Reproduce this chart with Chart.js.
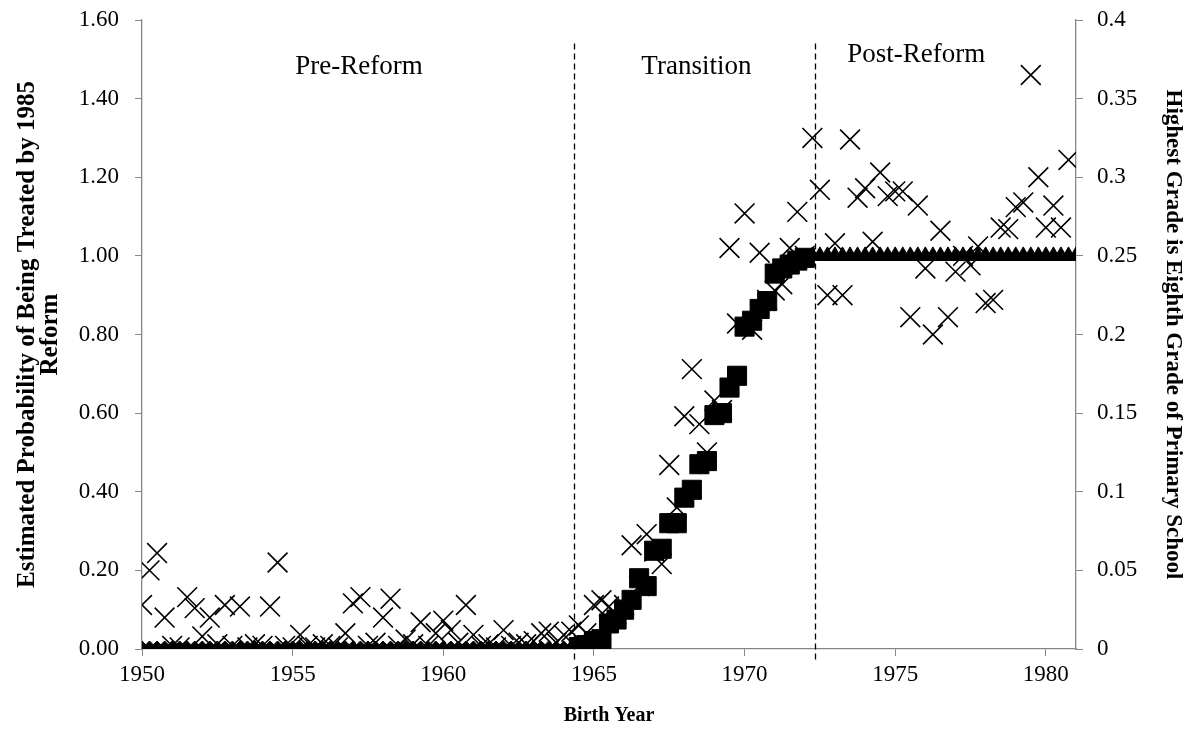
<!DOCTYPE html>
<html>
<head>
<meta charset="utf-8">
<script src="https://cdn.jsdelivr.net/npm/chart.js@4.4.1/dist/chart.umd.min.js"></script>
<style>
  html, body { margin: 0; padding: 0; background: #fff; }
  #wrap { width: 1192px; height: 734px; position: relative; }
</style>
</head>
<body>
<div id="wrap"><canvas id="reform-chart"></canvas></div>
<script>
// birth cohorts are quarters, starting with the first quarter of 1950
const firstCohort = 1950;
const cohortStep = 0.25;
const preStart = 0;    // first cohort index of the pre-reform series
const transStart = 58; // first cohort index of the transition series
const postStart = 89;  // first cohort index of the post-reform series

// estimated probability of being treated by 1985 reform (left axis)
const preProb = [
  0, 0, 0, 0, 0, 0, 0, 0, 0, 0,
  0, 0, 0, 0, 0, 0, 0, 0, 0, 0,
  0, 0, 0, 0, 0, 0, 0, 0, 0, 0,
  0, 0, 0, 0, 0, 0, 0, 0, 0, 0,
  0, 0, 0, 0, 0, 0, 0, 0, 0, 0,
  0, 0, 0, 0, 0, 0, 0, 0
];
const transProb = [
  0.005, 0.01, 0.02, 0.025, 0.065, 0.075, 0.10, 0.125, 0.18, 0.16,
  0.25, 0.255, 0.32, 0.32, 0.385, 0.405, 0.47, 0.478, 0.595, 0.60,
  0.665, 0.695, 0.82, 0.835, 0.865, 0.885, 0.955, 0.968, 0.978, 0.988,
  0.995
];
const postProb = [
  1, 1, 1, 1, 1, 1, 1, 1, 1, 1,
  1, 1, 1, 1, 1, 1, 1, 1, 1, 1,
  1, 1, 1, 1, 1, 1, 1, 1, 1, 1,
  1, 1, 1, 1, 1, 1
];

// share whose highest grade is eighth grade of primary school (right axis)
const eighthShare = [
  0.028, 0.050, 0.061, 0.020, 0.002, 0.001, 0.033, 0.026, 0.008, 0.020,
  0.003, 0.028, 0.002, 0.027, 0.001, 0.003, 0.002, 0.027, 0.055, 0.002,
  0.001, 0.009, 0.002, 0.001, 0.003, 0.002, 0.001, 0.010, 0.029, 0.033,
  0.002, 0.004, 0.020, 0.032, 0.002, 0.006, 0.003, 0.017, 0.002, 0.010,
  0.018, 0.012, 0.004, 0.028, 0.009, 0.002, 0.003, 0.001, 0.012, 0.002,
  0.004, 0.003, 0.005, 0.010, 0.011, 0.004, 0.009, 0.011,
  0.015, 0.010, 0.028, 0.031, 0.027, 0.022, 0.028, 0.066, 0.040, 0.073,
  0.062, 0.054, 0.117, 0.090, 0.148, 0.178, 0.143, 0.125, 0.158, 0.152,
  0.255, 0.207, 0.277, 0.203, 0.252, 0.222, 0.228, 0.232, 0.255, 0.278,
  0.250, 0.325, 0.292,
  0.225, 0.258, 0.225, 0.324, 0.287, 0.293, 0.259, 0.303, 0.288, 0.291,
  0.291, 0.211, 0.282, 0.242, 0.200, 0.266, 0.211, 0.240, 0.250, 0.244,
  0.256, 0.220, 0.222, 0.268, 0.267, 0.281, 0.284, 0.365, 0.300, 0.268,
  0.282, 0.268, 0.311
];

// period boundaries (dashed lines) and the period captions
const reformLines = [1964.35, 1972.35];
const periodLabels = ['Pre-Reform', 'Transition', 'Post-Reform'];
const periodLabelYears = [1957.2, 1968.4, 1975.7];
const periodLabelLevels = [1.48, 1.48, 1.51];

const xTickYears = [1950, 1955, 1960, 1965, 1970, 1975, 1980];

const serif = "'Liberation Serif', 'Times New Roman', serif";
const axisGrey = '#868686';

const toPoints = (values, start) =>
  values.map((v, i) => ({ x: firstCohort + (start + i) * cohortStep, y: v }));

// dashed period lines + captions
const periodPlugin = {
  id: 'periods',
  afterDatasetsDraw(chart) {
    const { ctx, scales } = chart;
    const x = scales.x, y = scales.y;
    ctx.save();
    ctx.strokeStyle = '#000';
    ctx.lineWidth = 1.3;
    ctx.setLineDash([6, 4]);
    reformLines.forEach((yr) => {
      const px = Math.round(x.getPixelForValue(yr)) + 0.5;
      ctx.beginPath();
      ctx.moveTo(px, y.getPixelForValue(1.54));
      ctx.lineTo(px, y.bottom + 12);
      ctx.stroke();
    });
    ctx.setLineDash([]);
    ctx.fillStyle = '#000';
    ctx.font = '27px ' + serif;
    ctx.textAlign = 'center';
    ctx.textBaseline = 'middle';
    periodLabels.forEach((t, i) => {
      ctx.fillText(t, x.getPixelForValue(periodLabelYears[i]), y.getPixelForValue(periodLabelLevels[i]));
    });
    ctx.restore();
  }
};

const tickFont = { family: serif, size: 23 };
// small line height on the value axes so the label overhang doesn't push the plot down
const sideTickFont = { family: serif, size: 23, lineHeight: 0.3 };
const grid = { drawOnChartArea: false, drawTicks: true, tickLength: 7, color: axisGrey };
const border = { color: axisGrey, width: 1.3 };

new Chart(document.getElementById('reform-chart'), {
  type: 'scatter',
  data: {
    datasets: [
      {
        label: 'Pre-Reform',
        data: toPoints(preProb, preStart),
        pointStyle: 'rectRot',
        pointRadius: 8,
        backgroundColor: '#000',
        borderColor: '#000',
        borderWidth: 1,
        yAxisID: 'y',
      },
      {
        label: 'Transition',
        data: toPoints(transProb, transStart),
        pointStyle: 'rect',
        pointRadius: 13.5,
        backgroundColor: '#000',
        borderColor: '#000',
        borderWidth: 1,
        yAxisID: 'y',
      },
      {
        label: 'Post-Reform',
        data: toPoints(postProb, postStart),
        pointStyle: 'triangle',
        pointRadius: 9,
        backgroundColor: '#000',
        borderColor: '#000',
        borderWidth: 1,
        yAxisID: 'y',
      },
      {
        label: 'Highest Grade is Eighth Grade',
        data: toPoints(eighthShare, 0),
        pointStyle: 'crossRot',
        pointRadius: 14,
        backgroundColor: '#000',
        borderColor: '#000',
        borderWidth: 1.6,
        yAxisID: 'y1',
      },
    ],
  },
  options: {
    responsive: true,
    maintainAspectRatio: false,
    devicePixelRatio: 1,
    animation: false,
    layout: { padding: { top: 20, left: 0, right: 0, bottom: 0 } },
    plugins: {
      legend: { display: false },
      tooltip: { enabled: false },
    },
    scales: {
      x: {
        type: 'linear',
        position: 'bottom',
        min: 1950,
        max: 1981,
        afterBuildTicks: (axis) => {
          axis.ticks = xTickYears.map((v) => ({ value: v }));
        },
        afterFit: (axis) => { axis.height = 85; },
        ticks: {
          color: '#000',
          font: tickFont,
          padding: 5,
          maxRotation: 0,
          callback: (v) => String(v),
        },
        grid: grid,
        border: border,
        title: {
          display: true,
          text: 'Birth Year',
          color: '#000',
          font: { family: serif, size: 20, weight: 'bold', lineHeight: 1.1 },
          padding: { top: 0, bottom: 7 },
        },
      },
      y: {
        position: 'left',
        min: 0,
        max: 1.6,
        afterFit: (axis) => { axis.width = 142; },
        ticks: {
          stepSize: 0.2,
          color: '#000',
          font: sideTickFont,
          padding: 16,
          callback: (v) => v.toFixed(2),
        },
        grid: grid,
        border: border,
        title: {
          display: true,
          text: ['Estimated Probability of Being Treated by 1985', 'Reform'],
          color: '#000',
          font: { family: serif, size: 25, weight: 'bold', lineHeight: 0.92 },
          padding: { top: 16, bottom: 0 },
        },
      },
      y1: {
        position: 'right',
        min: 0,
        max: 0.4,
        afterFit: (axis) => { axis.width = 116; },
        ticks: {
          stepSize: 0.05,
          color: '#000',
          font: sideTickFont,
          padding: 14,
          callback: (v) => String(+v.toFixed(2)),
        },
        grid: grid,
        border: border,
        title: {
          display: true,
          text: 'Highest Grade is Eighth Grade of Primary School',
          color: '#000',
          font: { family: serif, size: 23, weight: 'bold', lineHeight: 1 },
          padding: { top: 8, bottom: 0 },
        },
      },
    },
  },
  plugins: [periodPlugin],
});
</script>
</body>
</html>
